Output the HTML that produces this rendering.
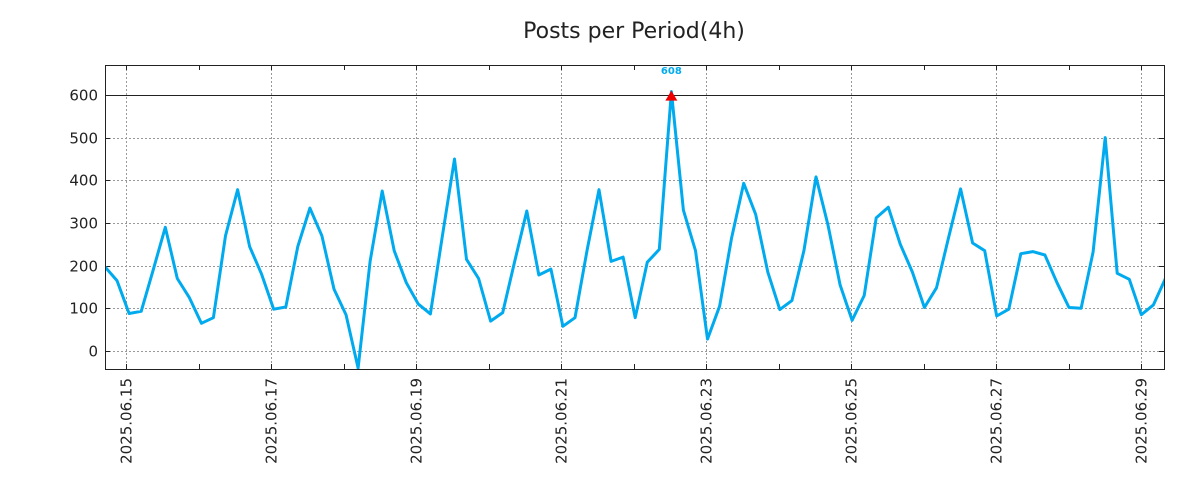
<!DOCTYPE html>
<html><head><meta charset="utf-8"><style>
body{margin:0;background:#fff;}
svg{display:block;font-family:"DejaVu Sans","Liberation Sans",sans-serif;}
</style></head><body>
<svg id="chart" width="1200" height="500" xmlns="http://www.w3.org/2000/svg">
<text x="634" y="38" text-anchor="middle" font-size="22" fill="#222">Posts per Period(4h)</text>
<defs><clipPath id="clip"><rect x="105" y="65" width="1059" height="304"/></clipPath></defs>
<g id="grid"></g>
<g id="axes"></g>
<g id="series" clip-path="url(#clip)"></g>
<rect x="105.5" y="65.5" width="1059" height="304" fill="none" stroke="#222" stroke-width="1"/>
</svg>
<script>
const values=[197,165,88,93,190,290,170,125,65,78,270,378,245,180,98,103,245,335,270,145,85,-40,210,375,235,160,110,87,270,450,215,170,70,90,210,328,178,192,58,78,235,378,210,220,78,208,238,608,330,235,28,105,265,393,320,185,97,118,235,408,295,155,72,130,312,337,250,185,102,148,265,380,253,235,82,98,228,233,225,160,102,100,232,500,182,168,85,108,170];
const yTicks=[0,100,200,300,400,500,600];
const dateLabels=["2025.06.15","2025.06.17","2025.06.19","2025.06.21","2025.06.23","2025.06.25","2025.06.27","2025.06.29"];
const peakLabel="608";
const NS="http://www.w3.org/2000/svg";
const svg=document.getElementById('chart');
const grid=document.getElementById('grid'),axes=document.getElementById('axes'),series=document.getElementById('series');
const x0=105,step=12.05;
const dayX0=126,dayPx=72.5;
const xOfIndex=i=>x0+i*step;
const xOfDay=d=>dayX0+d*dayPx;
const yOf=v=>351-v*0.4267;
function mk(t,a,p){const e=document.createElementNS(NS,t);for(const k in a)e.setAttribute(k,a[k]);(p||svg).appendChild(e);return e;}
yTicks.forEach((v,i)=>{
  const y=Math.round(yOf(v))+0.5;
  if(v===600){const l=mk('line',{x1:105,x2:1164,y1:y,y2:y,stroke:'#222','stroke-width':1},grid);
    }
  else{const l=mk('line',{x1:105,x2:1164,y1:y,y2:y,stroke:'#999','stroke-width':1,'stroke-dasharray':'2,2'},grid);
    }
  mk('line',{x1:105,x2:110,y1:y,y2:y,stroke:'#222'},axes);
  mk('line',{x1:1159,x2:1164,y1:y,y2:y,stroke:'#222'},axes);
  const t=mk('text',{x:98,y:y+5,'text-anchor':'end','font-size':15,fill:'#222'},axes);
  t.textContent=v;
  
});
for(let d=-1;d<16;d++){
  const x=Math.round(xOfDay(d))+0.5;
  if(x<105||x>1164)continue;
  mk('line',{x1:x,x2:x,y1:65,y2:70,stroke:'#222'},axes);
  mk('line',{x1:x,x2:x,y1:364,y2:369,stroke:'#222'},axes);
  if(d%2===0){
    const g=mk('line',{x1:x,x2:x,y1:65,y2:369,stroke:'#999','stroke-dasharray':'2,2'},grid);
    
    const t=mk('text',{x:0,y:0,'text-anchor':'end','font-size':15,fill:'#222',transform:`translate(${x+5},378) rotate(-90)`},axes);
    t.textContent=dateLabels[d/2];
    
  }
}
const pts=values.map((v,i)=>xOfIndex(i).toFixed(1)+','+yOf(v).toFixed(1)).join(' ');
const line=mk('polyline',{points:pts,fill:'none',stroke:'#00aaee','stroke-width':3,'stroke-linejoin':'round'},series);

let mi=0;values.forEach((v,i)=>{if(v>values[mi])mi=i;});
const px=xOfIndex(mi),py=yOf(values[mi]);
const tri=mk('polygon',{points:`${px-6},${py+9} ${px+6},${py+9} ${px},${py-1}`,fill:'#ee0000'});

const pl=mk('text',{x:px,y:74,'text-anchor':'middle','font-size':10,'font-weight':'bold',fill:'#00aaee'});
pl.textContent=peakLabel;

</script>
</body></html>
